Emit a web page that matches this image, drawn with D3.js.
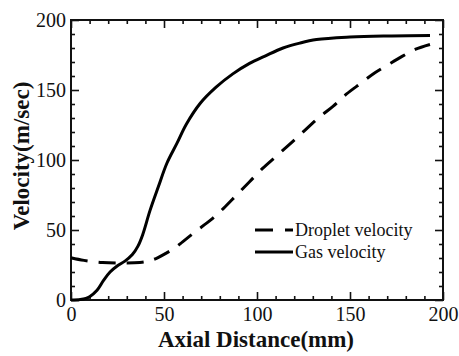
<!DOCTYPE html>
<html>
<head>
<meta charset="utf-8">
<script src="https://cdn.jsdelivr.net/npm/d3@7"></script>
<style>
  html, body { margin: 0; padding: 0; background: #fff; }
  svg { display: block; }
</style>
</head>
<body>
<svg id="chart" width="459" height="356"></svg>
<script>
// Axial distance (mm) and velocity (m/sec) samples
const gasDistance = [0, 5, 8, 10, 14, 17.5, 21, 25, 29, 33, 36, 38.5, 42.5, 47, 51.5, 57, 62, 69.5, 78, 87, 96, 104, 114, 123, 132, 150, 168, 193];
const gasVelocity = [0, 0.4, 1.2, 2.4, 7, 14, 20, 24.5, 27.8, 32.5, 38.5, 46.5, 64, 81, 97.5, 112, 125.5, 140.5, 152, 161.5, 169, 174, 180, 183.5, 186, 187.8, 188.6, 189];

const dropletDistance = [0, 7, 17, 29, 37, 41, 46, 51, 56, 60, 67, 75, 82, 89, 96, 103, 111, 119, 126, 133, 141, 148, 156, 163, 171, 178, 185, 193];
const dropletVelocity = [30.2, 28.3, 26.8, 26.4, 26.8, 27.6, 29.8, 33.3, 37.3, 41.5, 49, 57, 65.5, 75, 84.5, 94, 103.5, 113, 121.5, 130, 138.5, 147, 155, 162, 168.5, 174, 179, 182.5];

const xMajorTicks = [0, 50, 100, 150, 200];
const yMajorTicks = [0, 50, 100, 150, 200];
const legendLabels = ["Droplet velocity", "Gas velocity"];

const FONT = "Liberation Serif";

const svg = d3.select("#chart");
const margin = { left: 71, right: 16, top: 20, bottom: 56 };
const W = 459, H = 356;
const innerW = W - margin.left - margin.right;
const innerH = H - margin.top - margin.bottom;

const x = d3.scaleLinear().domain([0, 200]).range([0, innerW]);
const y = d3.scaleLinear().domain([0, 200]).range([innerH, 0]);

const g = svg.append("g").attr("transform", `translate(${margin.left},${margin.top})`);

const minor = d3.range(0, 201, 10).filter(v => v % 50 !== 0);

function styleAxis(sel) {
  sel.attr("font-family", FONT).attr("font-size", 20);
  sel.select(".domain").remove();
  sel.selectAll("line").attr("stroke", "#111").attr("stroke-width", 1.6);
  sel.selectAll("text").attr("fill", "#111");
}

// bottom: labelled major ticks + minor ticks, pointing inward
g.append("g").attr("transform", `translate(0,${innerH})`)
  .call(d3.axisBottom(x).tickValues(xMajorTicks).tickFormat(d3.format("d")).tickSizeInner(-8).tickSizeOuter(0).tickPadding(7))
  .call(styleAxis);
g.append("g").attr("transform", `translate(0,${innerH})`)
  .call(d3.axisBottom(x).tickValues(minor).tickFormat("").tickSizeInner(-4).tickSizeOuter(0))
  .call(styleAxis);
// top mirror
g.append("g")
  .call(d3.axisTop(x).tickValues(xMajorTicks).tickFormat("").tickSizeInner(-8).tickSizeOuter(0))
  .call(styleAxis);
g.append("g")
  .call(d3.axisTop(x).tickValues(minor).tickFormat("").tickSizeInner(-4).tickSizeOuter(0))
  .call(styleAxis);
// left
g.append("g")
  .call(d3.axisLeft(y).tickValues(yMajorTicks).tickFormat(d3.format("d")).tickSizeInner(-8).tickSizeOuter(0).tickPadding(5))
  .call(styleAxis);
g.append("g")
  .call(d3.axisLeft(y).tickValues(minor).tickFormat("").tickSizeInner(-4).tickSizeOuter(0))
  .call(styleAxis);
// right mirror
g.append("g").attr("transform", `translate(${innerW},0)`)
  .call(d3.axisRight(y).tickValues(yMajorTicks).tickFormat("").tickSizeInner(-8).tickSizeOuter(0))
  .call(styleAxis);
g.append("g").attr("transform", `translate(${innerW},0)`)
  .call(d3.axisRight(y).tickValues(minor).tickFormat("").tickSizeInner(-4).tickSizeOuter(0))
  .call(styleAxis);

// plot frame
g.append("rect").attr("x", 0).attr("y", 0).attr("width", innerW).attr("height", innerH)
  .attr("fill", "none").attr("stroke", "#111").attr("stroke-width", 2);

const line = d3.line().x(d => x(d[0])).y(d => y(d[1])).curve(d3.curveCatmullRom.alpha(0.5));

const gasData = gasDistance.map((d, i) => [d, gasVelocity[i]]);
const dropletData = dropletDistance.map((d, i) => [d, dropletVelocity[i]]);

g.append("path").datum(dropletData).attr("d", line)
  .attr("fill", "none").attr("stroke", "#000").attr("stroke-width", 3)
  .attr("stroke-dasharray", "17,11");
g.append("path").datum(gasData).attr("d", line)
  .attr("fill", "none").attr("stroke", "#000").attr("stroke-width", 3);

// legend
const legend = g.append("g").attr("transform", `translate(${255 - margin.left},${230 - margin.top})`);
const legendDash = ["18,12", null];
legendLabels.forEach((label, i) => {
  const row = legend.append("g").attr("transform", `translate(0,${i * 22})`);
  row.append("line").attr("x1", 0).attr("x2", 38).attr("y1", 0).attr("y2", 0)
    .attr("stroke", "#000").attr("stroke-width", 3)
    .attr("stroke-dasharray", legendDash[i]);
  row.append("text").attr("x", 40).attr("y", 6)
    .attr("font-family", FONT).attr("font-size", 18).attr("fill", "#111")
    .text(label);
});

// axis titles
svg.append("text")
  .attr("x", 256).attr("y", 347)
  .attr("text-anchor", "middle").attr("fill", "#111")
  .attr("font-family", FONT).attr("font-size", 23).attr("font-weight", "bold")
  .text("Axial Distance(mm)");
svg.append("text")
  .attr("transform", `translate(29,156) rotate(-90)`)
  .attr("text-anchor", "middle").attr("fill", "#111")
  .attr("font-family", FONT).attr("font-size", 23).attr("font-weight", "bold")
  .text("Velocity(m/sec)");
</script>
</body>
</html>
